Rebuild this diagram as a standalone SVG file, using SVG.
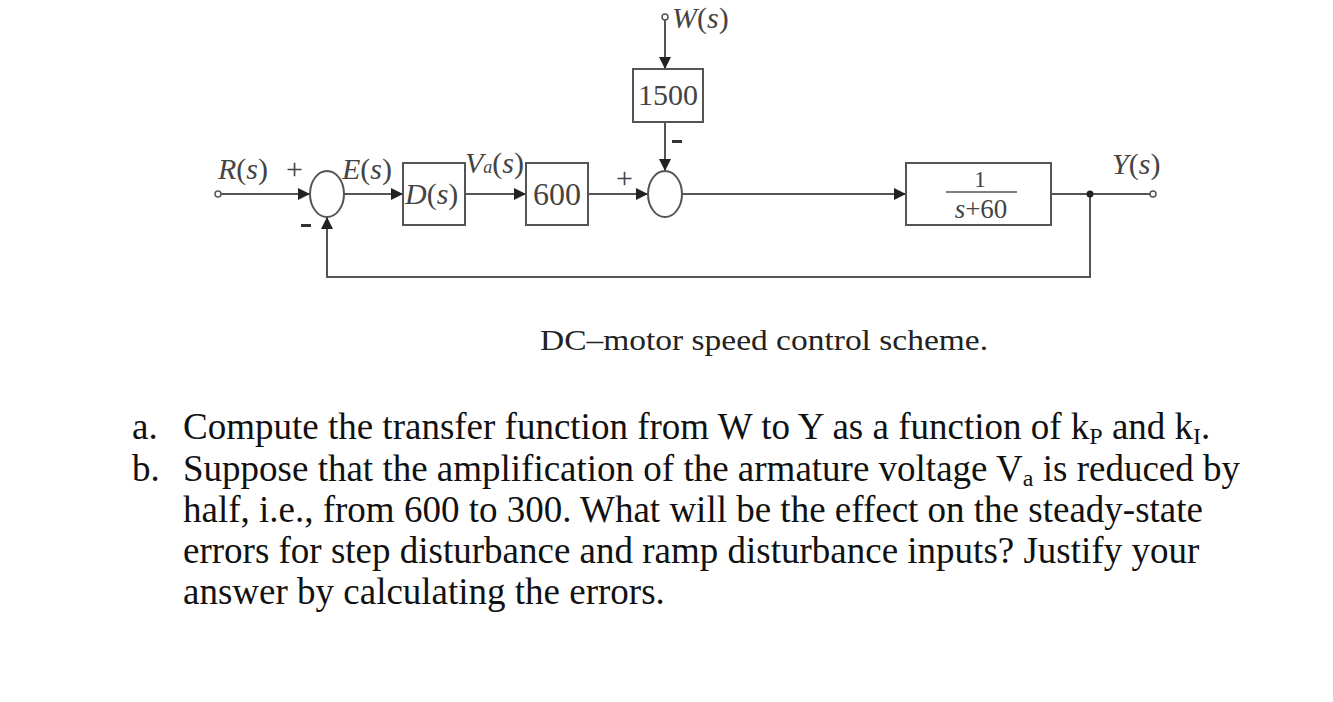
<svg xmlns="http://www.w3.org/2000/svg" width="1333" height="702" viewBox="0 0 1333 702">
<style>
.ln{stroke:#555;stroke-width:2;fill:none}
.bx{stroke:#555;stroke-width:2;fill:#fff}
.m{font-family:"Liberation Serif",serif;fill:#444;font-size:30px}
.mi{font-family:"Liberation Serif",serif;font-style:italic;fill:#444;font-size:30px}
.u{font-style:normal}
.t{font-family:"Liberation Serif",serif;fill:#111;font-size:37px}
.s{font-size:24px}
</style>
<defs>
<marker id="a" viewBox="0 0 10 10" refX="10" refY="5" markerWidth="16" markerHeight="12" markerUnits="userSpaceOnUse" orient="auto"><path d="M0,0L10,5L0,10z" fill="#222"/></marker>
</defs>
<rect width="1333" height="702" fill="#fff"/>
<g id="connectors">
<path class="ln" d="M221,194H310" marker-end="url(#a)"/>
<path class="ln" d="M344,194H403" marker-end="url(#a)"/>
<path class="ln" d="M465,194H526" marker-end="url(#a)"/>
<path class="ln" d="M588,194H648" marker-end="url(#a)"/>
<path class="ln" d="M682,194H906" marker-end="url(#a)"/>
<path class="ln" d="M1051,194H1150"/>
<path class="ln" d="M1090,194V277H327V217" marker-end="url(#a)"/>
<path class="ln" d="M665,20V69" marker-end="url(#a)"/>
<path class="ln" d="M665,122V171" marker-end="url(#a)"/>
<circle cx="1090" cy="194" r="3.5" fill="#222"/>
<circle cx="218" cy="194" r="3" fill="#fff" stroke="#555" stroke-width="1.5"/>
<circle cx="1153" cy="194" r="3" fill="#fff" stroke="#555" stroke-width="1.5"/>
<circle cx="665" cy="17" r="3" fill="#fff" stroke="#555" stroke-width="1.5"/>
</g>
<g id="sum1"><ellipse class="bx" cx="327" cy="194" rx="17" ry="23"/></g>
<g id="sum2"><ellipse class="bx" cx="665" cy="194" rx="17" ry="23"/></g>
<g id="D"><rect class="bx" x="403" y="163" width="62" height="62"/><text class="mi" x="405" y="204">D<tspan class="u">(</tspan>s<tspan class="u">)</tspan></text></g>
<g id="g600"><rect class="bx" x="526" y="163" width="62" height="62"/><text class="m" x="557" y="205" text-anchor="middle" style="font-size:32px">600</text></g>
<g id="g1500"><rect class="bx" x="633" y="69" width="70" height="53"/><text class="m" x="668" y="105" text-anchor="middle">1500</text></g>
<g id="plant"><rect class="bx" x="906" y="163" width="145" height="62"/><text class="m" x="980" y="187" text-anchor="middle" style="font-size:23px">1</text><line x1="946" y1="192" x2="1017" y2="192" stroke="#555" stroke-width="1.5"/><text class="mi" x="981" y="218" text-anchor="middle" style="font-size:27px">s<tspan class="u">+60</tspan></text></g>
<g id="labels">
<text class="mi" x="218" y="179">R<tspan class="u">(</tspan>s<tspan class="u">)</tspan></text>
<text class="m" x="286" y="179">+</text>
<text class="mi" x="342" y="179">E<tspan class="u">(</tspan>s<tspan class="u">)</tspan></text>
<text class="mi" x="465" y="173">V<tspan style="font-size:18px">a</tspan><tspan class="u">(</tspan>s<tspan class="u">)</tspan></text>
<rect x="301" y="224" width="10" height="3" fill="#333"/>
<text class="m" x="616" y="188">+</text>
<rect x="672" y="140" width="10" height="3" fill="#333"/>
<text class="mi" x="672" y="28">W<tspan class="u">(</tspan>s<tspan class="u">)</tspan></text>
<text class="mi" x="1112" y="174">Y<tspan class="u">(</tspan>s<tspan class="u">)</tspan></text>
</g>
<text x="540" y="350" font-family="Liberation Serif,serif" font-size="29" fill="#222" textLength="448" lengthAdjust="spacingAndGlyphs">DC–motor speed control scheme.</text>
<text class="t" x="132" y="439">a.</text>
<text class="t" x="183" y="439">Compute the transfer function from W to Y as a function of k<tspan class="s" dy="5">P</tspan><tspan dy="-5"> and k</tspan><tspan class="s" dy="5">I</tspan><tspan dy="-5">.</tspan></text>
<text class="t" x="132" y="481">b.</text>
<text class="t" x="183" y="481">Suppose that the amplification of the armature voltage V<tspan class="s" dy="5">a</tspan><tspan dy="-5"> is reduced by</tspan></text>
<text class="t" x="183" y="522">half, i.e., from 600 to 300. What will be the effect on the steady-state</text>
<text class="t" x="183" y="563">errors for step disturbance and ramp disturbance inputs? Justify your</text>
<text class="t" x="183" y="604">answer by calculating the errors.</text>
</svg>
